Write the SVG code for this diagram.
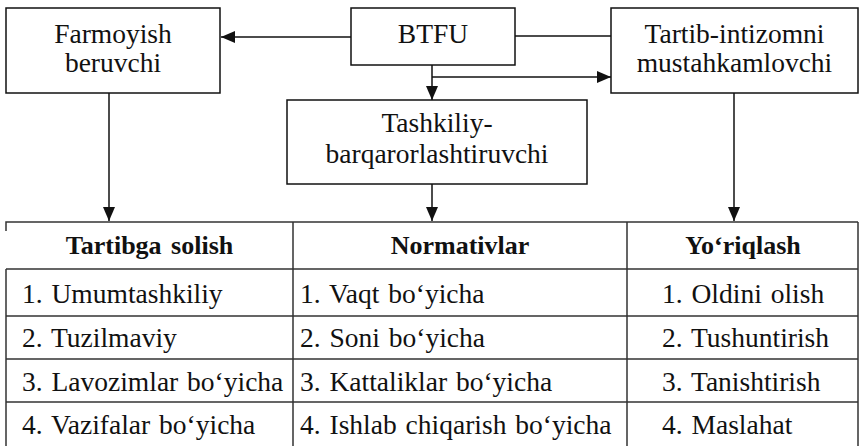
<svg xmlns="http://www.w3.org/2000/svg" width="859" height="447" viewBox="0 0 859 447" font-family="Liberation Serif, Times New Roman, Times, serif">
  <style>
    .box { fill: #fff; stroke: #111; stroke-width: 1.5; }
    .lbl { font-size: 27.5px; fill: #111; }
    .mid { text-anchor: middle; }
    .hdr { font-size: 26px; font-weight: bold; fill: #111; text-anchor: middle; word-spacing: 3px; }
    .cell { font-size: 27.5px; fill: #111; word-spacing: 2px; }
    .wire { fill: none; stroke: #111; stroke-width: 1.5; }
    .grid { fill: none; stroke: #333; stroke-width: 1.5; }
  </style>
  <defs>
    <marker id="arrow" markerUnits="userSpaceOnUse" markerWidth="14" markerHeight="12" refX="14" refY="6" orient="auto">
      <path d="M0,0 L14,6 L0,12 Z" fill="#111"/>
    </marker>
  </defs>

  <rect width="859" height="447" fill="#fff"/>

  <!-- connectors -->
  <g id="connectors">
    <line class="wire" x1="351" y1="37" x2="221" y2="37" marker-end="url(#arrow)"/>
    <line class="wire" x1="515" y1="36" x2="611" y2="36"/>
    <line class="wire" x1="432" y1="65" x2="432" y2="100" marker-end="url(#arrow)"/>
    <line class="wire" x1="432" y1="77" x2="611" y2="77" marker-end="url(#arrow)"/>
    <line class="wire" x1="109" y1="93" x2="109" y2="221" marker-end="url(#arrow)"/>
    <line class="wire" x1="432" y1="184" x2="432" y2="221" marker-end="url(#arrow)"/>
    <line class="wire" x1="734" y1="93" x2="734" y2="221" marker-end="url(#arrow)"/>
  </g>

  <!-- nodes -->
  <g id="farmoyish">
    <rect class="box" x="6" y="8" width="214" height="85"/>
    <text class="lbl mid" x="113" y="43">Farmoyish</text>
    <text class="lbl mid" x="113" y="72">beruvchi</text>
  </g>
  <g id="btfu">
    <rect class="box" x="351" y="8" width="164" height="57"/>
    <text class="lbl mid" x="433" y="43">BTFU</text>
  </g>
  <g id="tartib">
    <rect class="box" x="611" y="8" width="247" height="85"/>
    <text class="lbl mid" x="734.5" y="43">Tartib-intizomni</text>
    <text class="lbl mid" x="734.5" y="72">mustahkamlovchi</text>
  </g>
  <g id="tashkiliy">
    <rect class="box" x="287" y="100" width="300" height="84"/>
    <text class="lbl mid" x="437" y="132">Tashkiliy-</text>
    <text class="lbl mid" x="437" y="163">barqarorlashtiruvchi</text>
  </g>

  <!-- table -->
  <g id="table">
    <path class="grid" d="M6,231 V222 H858"/>
    <path class="grid" d="M6,269 V446 M293,222 V446 M627,222 V446 M858,222 V446"/>
    <path class="grid" d="M6,269 H858 M6,316 H858 M6,359 H858 M6,402 H858"/>

    <text class="hdr" x="149.5" y="254">Tartibga solish</text>
    <text class="hdr" x="460" y="254">Normativlar</text>
    <text class="hdr" x="743" y="254">Yo‘riqlash</text>

    <text class="cell" x="22" y="303">1. Umumtashkiliy</text>
    <text class="cell" x="22" y="347">2. Tuzilmaviy</text>
    <text class="cell" x="22" y="391">3. Lavozimlar bo‘yicha</text>
    <text class="cell" x="22" y="434">4. Vazifalar bo‘yicha</text>

    <text class="cell" x="300" y="303">1. Vaqt bo‘yicha</text>
    <text class="cell" x="300" y="347">2. Soni bo‘yicha</text>
    <text class="cell" x="300" y="391">3. Kattaliklar bo‘yicha</text>
    <text class="cell" x="300" y="434">4. Ishlab chiqarish bo‘yicha</text>

    <text class="cell" x="662" y="303">1. Oldini olish</text>
    <text class="cell" x="662" y="347">2. Tushuntirish</text>
    <text class="cell" x="662" y="391">3. Tanishtirish</text>
    <text class="cell" x="662" y="434">4. Maslahat</text>
  </g>
</svg>
